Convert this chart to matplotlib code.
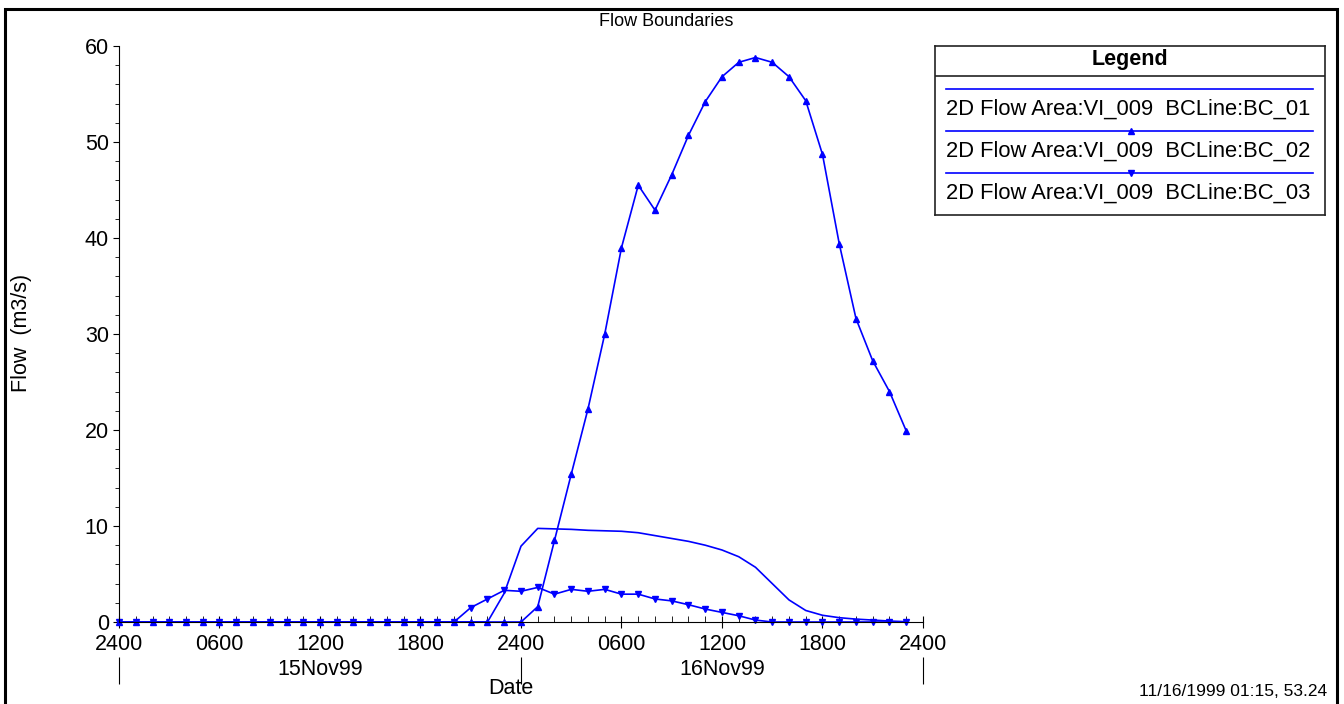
import matplotlib
matplotlib.use('Agg')
import matplotlib.pyplot as plt
from matplotlib.patches import Rectangle
from matplotlib.lines import Line2D

plt.rcParams['font.family'] = ['Liberation Sans', 'DejaVu Sans']

# ─── Data (hours from 15Nov99 0000) ─────────────────────────────────────────
hours = list(range(48))

bc01 = [0.0] * 23 + [3.0, 7.9, 9.75, 9.7, 9.65, 9.55, 9.5, 9.45, 9.3, 9.0,
                     8.7, 8.4, 8.0, 7.5, 6.8, 5.7, 4.0, 2.3, 1.2, 0.7,
                     0.45, 0.3, 0.2, 0.1, 0.03]

bc02 = [0.0] * 25 + [1.6, 8.5, 15.4, 22.2, 30.0, 39.0, 45.5, 42.9, 46.6,
                     50.7, 54.2, 56.8, 58.3, 58.8, 58.3, 56.8, 54.3, 48.7,
                     39.4, 31.6, 27.2, 24.0, 19.9]

bc03 = [0.0] * 21 + [1.5, 2.4, 3.3, 3.2, 3.6, 2.9, 3.4, 3.2, 3.4, 2.9, 2.9,
                     2.4, 2.2, 1.8, 1.35, 1.0, 0.65, 0.2] + [0.0] * 9

series_names = ['2D Flow Area:VI_009  BCLine:BC_01',
                '2D Flow Area:VI_009  BCLine:BC_02',
                '2D Flow Area:VI_009  BCLine:BC_03']

x_ticks = [0, 6, 12, 18, 24, 30, 36, 42, 48]
x_tick_labels = ['2400', '0600', '1200', '1800', '2400', '0600', '1200', '1800', '2400']
day_labels = ['15Nov99', '16Nov99']

BLUE = '#0000ff'
W, H = 1344, 704
FS = 15.5
LW, MS = 1.2, 4

fig = plt.figure(figsize=(W / 100, H / 100), dpi=100)
ax = fig.add_axes([119 / W, 82 / H, 804 / W, 576 / H])

ax.plot(hours, bc01, color=BLUE, lw=LW, clip_on=False)
ax.plot(hours, bc02, color=BLUE, lw=LW, marker='^', ms=MS, clip_on=False)
ax.plot(hours, bc03, color=BLUE, lw=LW, marker='v', ms=MS, clip_on=False)

ax.set_xlim(0, 48)
ax.set_ylim(0, 60)
for s in ['top', 'right']:
    ax.spines[s].set_visible(False)

ax.set_xticks(x_ticks, labels=x_tick_labels)
ax.set_xticks(range(49), minor=True)
ax.set_yticks(range(0, 61, 10))
ax.set_yticks(range(0, 61, 2), minor=True)
ax.tick_params(axis='x', which='major', direction='inout', length=9, labelsize=FS, pad=4)
ax.tick_params(axis='x', which='minor', direction='in', length=4)
ax.tick_params(axis='y', which='major', direction='out', length=4.3, labelsize=FS, pad=3)
ax.tick_params(axis='y', which='minor', direction='out', length=2.9)

# day separators and day names
sec = ax.secondary_xaxis(-35 / 576)
sec.set_xticks([0, 24, 48], labels=['', '', ''])
sec.set_xticks([12, 36], labels=day_labels, minor=True)
sec.tick_params(which='major', direction='out', length=19.5)
sec.tick_params(which='minor', length=0, labelsize=FS, pad=1.5)
sec.spines['bottom'].set_visible(False)

fig.text(511 / W, 1 - 689 / H, 'Date', ha='center', va='center', fontsize=FS)
fig.text(22 / W, 1 - 333 / H, 'Flow  (m3/s)', rotation=90, ha='center', va='center',
         fontsize=FS)
fig.text(666 / W, 1 - 22 / H, 'Flow Boundaries', ha='center', va='center', fontsize=13)
fig.text(1327 / W, 1 - 692 / H, '11/16/1999 01:15, 53.24', ha='right', va='center',
         fontsize=12.5, family=['Liberation Sans Narrow', 'Liberation Sans'])

# ─── Legend box ────────────────────────────────────────────────────────────
lg = fig.add_axes([935 / W, 1 - 215 / H, 390 / W, 169 / H])
lg.set_xlim(0, 390)
lg.set_ylim(169, 0)
lg.set_xticks([])
lg.set_yticks([])
for s in lg.spines.values():
    s.set_linewidth(1.2)
    s.set_color('#222222')
lg.axhline(30, color='#222222', lw=1.2)
lg.text(195, 14, 'Legend', ha='center', va='center', fontsize=FS, fontweight='bold')
markers = [None, '^', 'v']
for i, (name, mk) in enumerate(zip(series_names, markers)):
    yl = 43 + 42 * i
    lg.add_line(Line2D([11, 378], [yl, yl], color=BLUE, lw=LW))
    if mk:
        lg.plot([196], [yl], marker=mk, color=BLUE, ms=MS)
    lg.text(11, yl + 20, name, ha='left', va='center', fontsize=15.8)

# outer frame
fig.patches.append(Rectangle((5 / W, -0.02), 1332 / W, 1 - 9 / H + 0.02,
                             transform=fig.transFigure, fill=False,
                             edgecolor='black', lw=2.2))

fig.savefig('out.png', dpi=100)
